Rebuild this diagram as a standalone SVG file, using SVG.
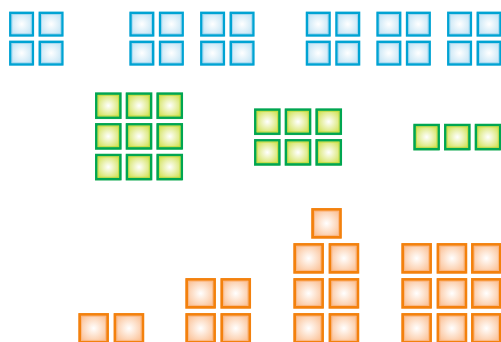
<svg xmlns="http://www.w3.org/2000/svg" xmlns:xlink="http://www.w3.org/1999/xlink" width="501" height="342" viewBox="0 0 501 342">
<defs>
<radialGradient id="gB" cx="0.5" cy="0.5" r="0.6"><stop offset="0" stop-color="#ffffff"/><stop offset="1" stop-color="#bfe2f4"/></radialGradient>
<radialGradient id="gG" cx="0.5" cy="0.5" r="0.6"><stop offset="0" stop-color="#ffffff"/><stop offset="1" stop-color="#cfe04c"/></radialGradient>
<radialGradient id="gO" cx="0.5" cy="0.5" r="0.6"><stop offset="0" stop-color="#ffffff"/><stop offset="1" stop-color="#fbbf92"/></radialGradient>
<g id="sqB">
<rect x="0" y="0.8" width="24.2" height="24.5" fill="#b6e0f2"/>
<rect x="1.3" y="1.3" width="22.6" height="22.6" fill="url(#gB)" stroke="#00a3d3" stroke-width="2.4"/>
<rect x="3" y="3" width="19.2" height="19.2" fill="none" stroke="#8ed0ec" stroke-width="0.9" opacity="0.7"/>
</g>
<g id="sqG">
<rect x="0" y="0.8" width="25.7" height="26" fill="#9ed7a8"/>
<rect x="1.3" y="1.3" width="24.1" height="24.1" fill="url(#gG)" stroke="#00a651" stroke-width="2.5"/>
<rect x="3.1" y="3.1" width="20.5" height="20.5" fill="none" stroke="#bcd83c" stroke-width="0.9" opacity="0.8"/>
</g>
<g id="sqO">
<rect x="0" y="0.8" width="29.7" height="30" fill="#fbd2b0"/>
<rect x="1.4" y="1.4" width="27.9" height="27.9" fill="url(#gO)" stroke="#f3810d" stroke-width="2.7"/>
<rect x="3.3" y="3.3" width="24.1" height="24.1" fill="none" stroke="#f9b27a" stroke-width="0.9" opacity="0.8"/>
</g>
</defs>
<g id="blue-1"><use href="#sqB" x="9" y="11.5"/><use href="#sqB" x="38.5" y="11.5"/><use href="#sqB" x="9" y="40.5"/><use href="#sqB" x="38.5" y="40.5"/></g>
<g id="blue-2"><use href="#sqB" x="129.3" y="11.5"/><use href="#sqB" x="158.8" y="11.5"/><use href="#sqB" x="129.3" y="40.5"/><use href="#sqB" x="158.8" y="40.5"/></g>
<g id="blue-3"><use href="#sqB" x="200" y="11.5"/><use href="#sqB" x="229.5" y="11.5"/><use href="#sqB" x="200" y="40.5"/><use href="#sqB" x="229.5" y="40.5"/></g>
<g id="blue-4"><use href="#sqB" x="305.7" y="11.5"/><use href="#sqB" x="335.2" y="11.5"/><use href="#sqB" x="305.7" y="40.5"/><use href="#sqB" x="335.2" y="40.5"/></g>
<g id="blue-5"><use href="#sqB" x="376.3" y="11.5"/><use href="#sqB" x="405.8" y="11.5"/><use href="#sqB" x="376.3" y="40.5"/><use href="#sqB" x="405.8" y="40.5"/></g>
<g id="blue-6"><use href="#sqB" x="447" y="11.5"/><use href="#sqB" x="476.5" y="11.5"/><use href="#sqB" x="447" y="40.5"/><use href="#sqB" x="476.5" y="40.5"/></g>
<g id="green-1">
<use href="#sqG" x="95" y="92.3"/><use href="#sqG" x="125.7" y="92.3"/><use href="#sqG" x="156.4" y="92.3"/>
<use href="#sqG" x="95" y="123"/><use href="#sqG" x="125.7" y="123"/><use href="#sqG" x="156.4" y="123"/>
<use href="#sqG" x="95" y="153.7"/><use href="#sqG" x="125.7" y="153.7"/><use href="#sqG" x="156.4" y="153.7"/>
</g>
<g id="green-2">
<use href="#sqG" x="254" y="108.3"/><use href="#sqG" x="284.7" y="108.3"/><use href="#sqG" x="315.4" y="108.3"/>
<use href="#sqG" x="254" y="139"/><use href="#sqG" x="284.7" y="139"/><use href="#sqG" x="315.4" y="139"/>
</g>
<g id="green-3">
<use href="#sqG" x="413.3" y="123.7"/><use href="#sqG" x="444" y="123.7"/><use href="#sqG" x="474.7" y="123.7"/>
</g>
<g id="orange-1"><use href="#sqO" x="78.3" y="313"/><use href="#sqO" x="113.6" y="313"/></g>
<g id="orange-2"><use href="#sqO" x="185.3" y="278"/><use href="#sqO" x="220.4" y="278"/><use href="#sqO" x="185.3" y="313"/><use href="#sqO" x="220.4" y="313"/></g>
<g id="orange-3">
<use href="#sqO" x="311.2" y="208"/>
<use href="#sqO" x="293.3" y="243"/><use href="#sqO" x="328.6" y="243"/>
<use href="#sqO" x="293.3" y="278"/><use href="#sqO" x="328.6" y="278"/>
<use href="#sqO" x="293.3" y="313"/><use href="#sqO" x="328.6" y="313"/>
</g>
<g id="orange-4">
<use href="#sqO" x="401.3" y="243"/><use href="#sqO" x="436.6" y="243"/><use href="#sqO" x="471" y="243"/>
<use href="#sqO" x="401.3" y="278"/><use href="#sqO" x="436.6" y="278"/><use href="#sqO" x="471" y="278"/>
<use href="#sqO" x="401.3" y="313"/><use href="#sqO" x="436.6" y="313"/><use href="#sqO" x="471" y="313"/>
</g>
</svg>
